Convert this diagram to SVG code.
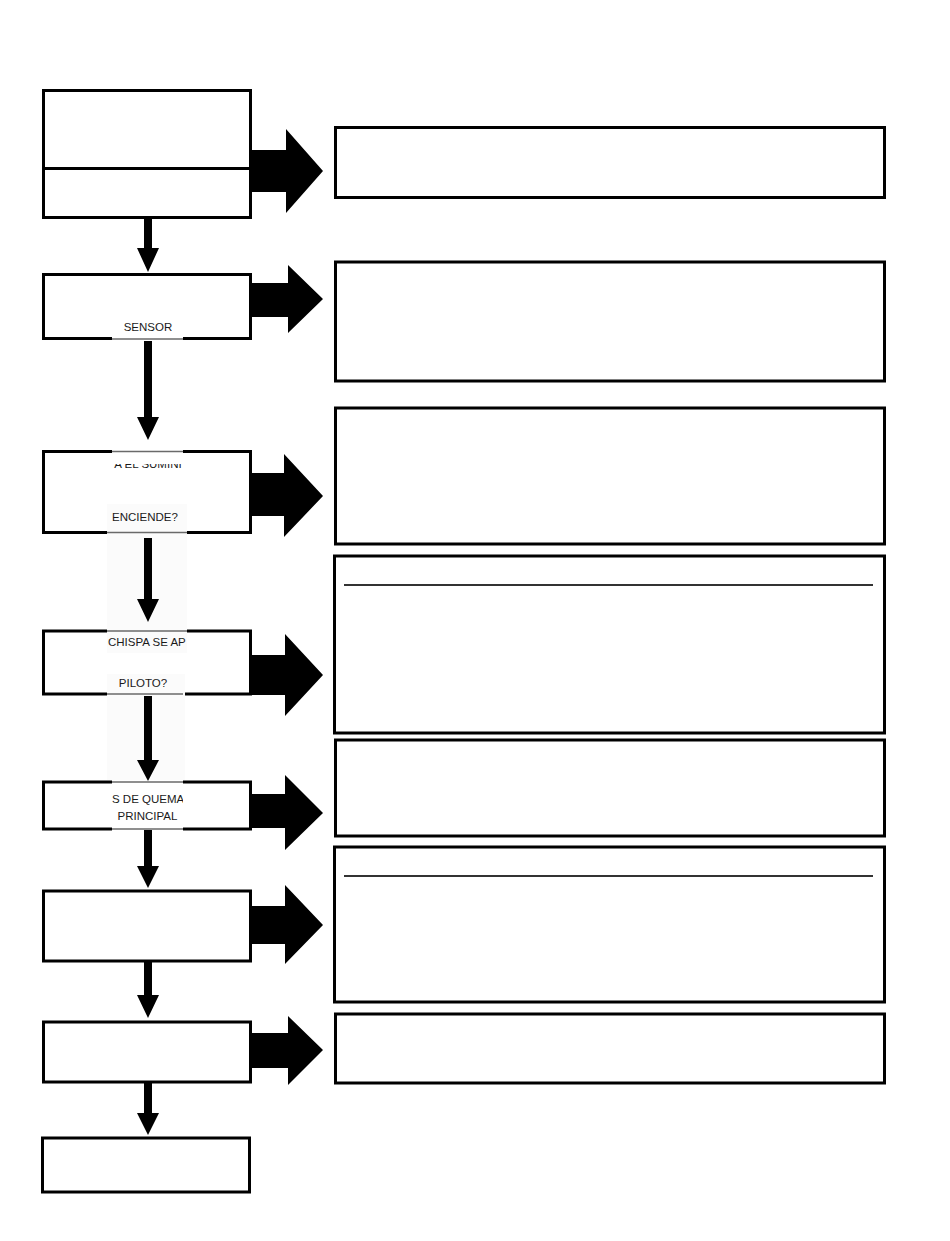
<svg xmlns="http://www.w3.org/2000/svg" width="950" height="1241" viewBox="0 0 950 1241">
<style>
.box{fill:#fff;stroke:#000;stroke-width:3}
.arr{fill:#000;stroke:none}
.patch{fill:#fff;stroke:none}
.strip{fill:#fbfbfb;stroke:none}
.gl{stroke:#6a6a6a;stroke-width:1.6}
.il{stroke:#333;stroke-width:2.2}
.t{font-family:"Liberation Sans",Arial,sans-serif;font-size:11.5px;fill:#1a1a1a;text-anchor:middle}
</style>
<defs>
<clipPath id="c1"><rect x="112" y="464" width="71" height="5"/></clipPath>
<clipPath id="c2"><rect x="107" y="632" width="80" height="20"/></clipPath>
<clipPath id="c3"><rect x="112" y="784" width="71" height="22"/></clipPath>
</defs>
<rect width="950" height="1241" fill="#fff"/>

<g id="n1"><rect class="box" x="43.5" y="90.5" width="207" height="127"/><line x1="43.5" y1="168.5" x2="250.5" y2="168.5" stroke="#000" stroke-width="3"/></g>
<g id="n2"><rect class="box" x="43.5" y="274.5" width="207" height="64"/></g>
<g id="n3"><rect class="box" x="43.5" y="451.5" width="207" height="81"/></g>
<g id="n4"><rect class="box" x="43.5" y="631" width="207" height="63"/></g>
<g id="n5"><rect class="box" x="43.5" y="782" width="207" height="47"/></g>
<g id="n6"><rect class="box" x="43.5" y="891" width="207" height="70"/></g>
<g id="n7"><rect class="box" x="43.5" y="1022" width="207" height="60"/></g>
<g id="n8"><rect class="box" x="42.5" y="1138" width="207" height="54"/></g>

<g id="r1"><rect class="box" x="335.5" y="127.5" width="549" height="70"/></g>
<g id="r2"><rect class="box" x="335.5" y="262" width="549" height="119"/></g>
<g id="r3"><rect class="box" x="335.5" y="408" width="549" height="136"/></g>
<g id="r4"><rect class="box" x="334.5" y="556" width="550" height="177"/><line class="il" x1="344" y1="585" x2="873" y2="585"/></g>
<g id="r5"><rect class="box" x="335.5" y="740" width="549" height="96"/></g>
<g id="r6"><rect class="box" x="334.5" y="847" width="550" height="155"/><line class="il" x1="344" y1="876" x2="873" y2="876"/></g>
<g id="r7"><rect class="box" x="335.5" y="1014" width="549" height="69"/></g>

<g id="labels">
<rect class="patch" x="112" y="312" width="71" height="29"/><line class="gl" x1="112" y1="339" x2="183" y2="339"/>
<text class="t" x="148" y="331">SENSOR</text>
<rect class="patch" x="112" y="449" width="71" height="22"/><line class="gl" x1="112" y1="451.5" x2="183" y2="451.5"/>
<text class="t" x="148" y="468" clip-path="url(#c1)">A EL SUMINI</text>
<rect class="strip" x="107" y="504" width="80" height="149"/><line class="gl" x1="107" y1="532.5" x2="187" y2="532.5"/><line class="gl" x1="107" y1="631" x2="187" y2="631"/>
<text class="t" x="145" y="521">ENCIENDE?</text>
<text class="t" x="108" y="646" style="text-anchor:start" clip-path="url(#c2)">CHISPA SE AP</text>
<rect class="strip" x="107" y="674" width="78" height="106"/><line class="gl" x1="107" y1="694" x2="183" y2="694"/>
<text class="t" x="143" y="687">PILOTO?</text>
<rect class="patch" x="112" y="780" width="71" height="51"/><line class="gl" x1="112" y1="782" x2="183" y2="782"/><line class="gl" x1="112" y1="829" x2="183" y2="829"/>
<text class="t" x="112" y="803" style="text-anchor:start" clip-path="url(#c3)">S DE QUEMA</text>
<text class="t" x="147.5" y="820">PRINCIPAL</text>
</g>

<g id="connectors">
<polygon class="arr" points="250,150 286,150 286,129 323,171 286,213 286,192 250,192"/>
<polygon class="arr" points="250,283 288,283 288,265 323,299 288,333 288,317 250,317"/>
<polygon class="arr" points="250,473 284,473 284,454 323,496 284,537 284,516 250,516"/>
<polygon class="arr" points="250,655 285,655 285,634 323,675 285,716 285,695 250,695"/>
<polygon class="arr" points="250,794 285,794 285,775 323,813 285,850 285,828 250,828"/>
<polygon class="arr" points="250,906 285,906 285,885 323,925 285,964 285,944 250,944"/>
<polygon class="arr" points="250,1033 288,1033 288,1016 323,1050 288,1085 288,1068 250,1068"/>

<polygon class="arr" points="144,219 152,219 152,248 159,248 148,272 137,248 144,248"/>
<polygon class="arr" points="144,341 152,341 152,417 159,417 148,440 137,417 144,417"/>
<polygon class="arr" points="144,538 152,538 152,599 159,599 148,622 137,599 144,599"/>
<polygon class="arr" points="144,696 152,696 152,760 159,760 148,781 137,760 144,760"/>
<polygon class="arr" points="144,830 152,830 152,866 159,866 148,888 137,866 144,866"/>
<polygon class="arr" points="144,962 152,962 152,995 159,995 148,1018 137,995 144,995"/>
<polygon class="arr" points="144,1083 152,1083 152,1113 159,1113 148,1135 137,1113 144,1113"/>
</g>
</svg>
